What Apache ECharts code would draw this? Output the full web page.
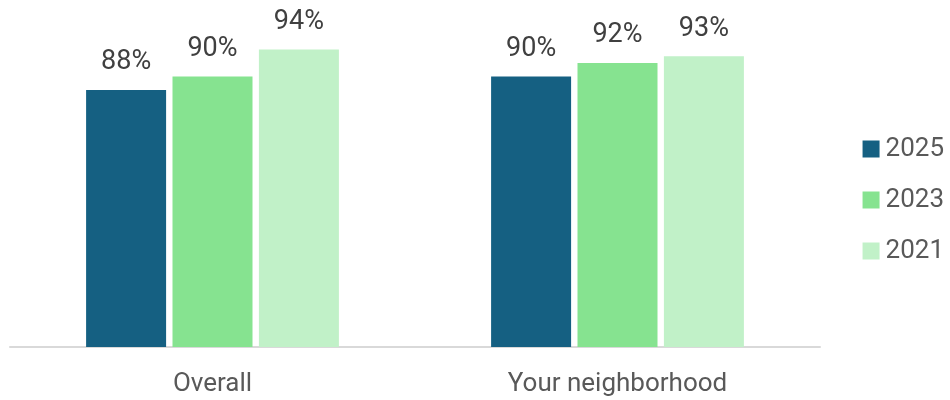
<!DOCTYPE html>
<html>
<head>
<meta charset="utf-8">
<script src="https://cdn.jsdelivr.net/npm/echarts@6/dist/echarts.min.js"></script>
<style>
  html, body { margin: 0; padding: 0; background: #fff; }
  #chart { width: 950px; height: 400px; }
</style>
</head>
<body>
<div id="chart"></div>
<script>
// chart data
const categories = ['Overall', 'Your neighborhood']
const years = ['2025', '2023', '2021']
const values2025 = [88, 90]
const values2023 = [90, 92]
const values2021 = [94, 93]
const colors = ['#156082', '#86E390', '#C1F1C8']

const chart = echarts.init(document.getElementById('chart'))
const seriesData = [values2025, values2023, values2021]

chart.setOption({
  animation: false,
  textStyle: { fontFamily: 'Roboto' },
  grid: { left: 10, right: 130, top: 9, bottom: 53, containLabel: false },
  legend: {
    orient: 'vertical',
    right: 1,
    top: 131,
    itemWidth: 17,
    itemHeight: 17,
    itemGap: 25,
    icon: 'rect',
    textStyle: { fontSize: 26, lineHeight: 26, color: '#595959', padding: [0, 0, 0, 1] },
    data: years
  },
  xAxis: {
    type: 'category',
    data: categories,
    axisLine: { lineStyle: { color: '#D9D9D9', width: 2 } },
    axisTick: { show: false },
    axisLabel: { fontSize: 26, color: '#595959', margin: 24 }
  },
  yAxis: {
    type: 'value',
    min: 50,
    max: 100,
    show: false
  },
  series: years.map((y, i) => ({
    name: y,
    type: 'bar',
    data: seriesData[i],
    barWidth: 80,
    barGap: '8%',
    itemStyle: { color: colors[i] },
    label: {
      show: true,
      position: 'top',
      distance: 14,
      formatter: '{c}%',
      fontSize: 27,
      color: '#404040'
    }
  }))
})
</script>
</body>
</html>
